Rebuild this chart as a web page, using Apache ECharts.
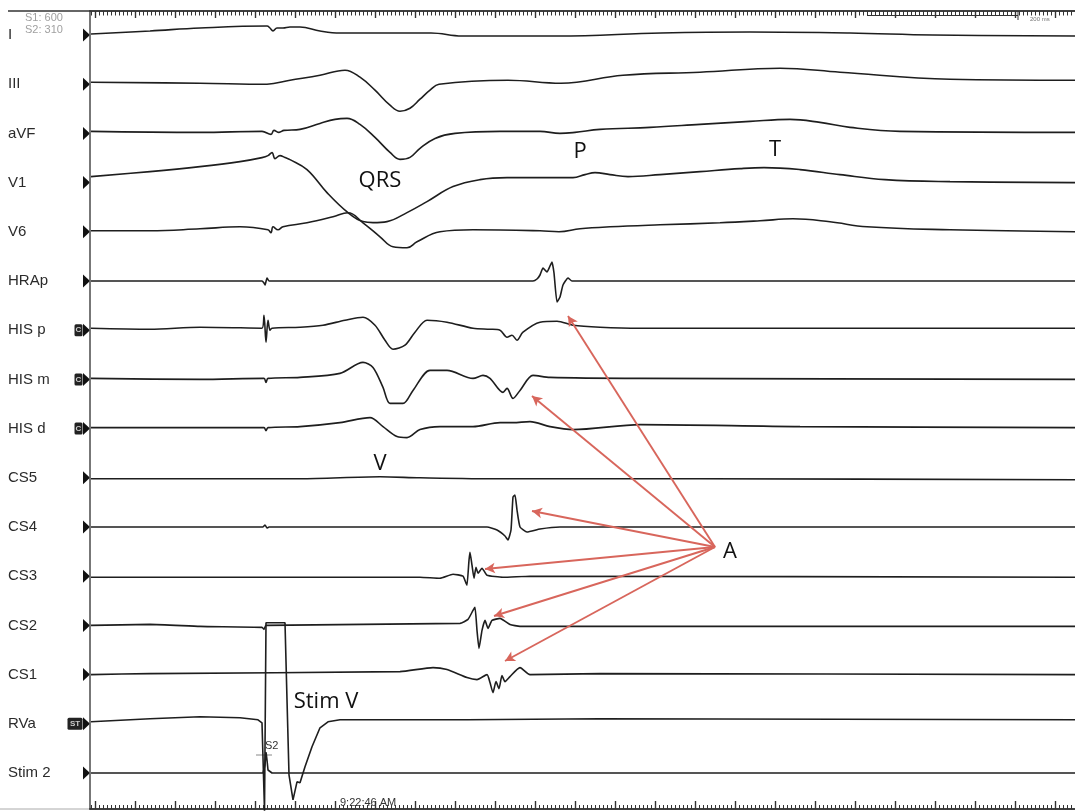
<!DOCTYPE html>
<html><head><meta charset="utf-8">
<script src="https://cdn.jsdelivr.net/npm/echarts@6/dist/echarts.min.js"></script>
<style>html,body{margin:0;padding:0;background:#fff;overflow:hidden}#c{width:1075px;height:811px}</style>
</head><body><div id="c"></div>
<script>
// ---- channel names (top to bottom) ----
const channelNames = ['I','III','aVF','V1','V6','HRAp','HIS p','HIS m','HIS d','CS5','CS4','CS3','CS2','CS1','RVa','Stim 2'];
const channelBadges = {6:'C', 7:'C', 8:'C', 14:'ST'};

// ---- traces: [time, amplitude] pairs ----
const traceI = [[1,1],[60,4],[110,7],[177,9],[180,7],[183,4],[187,7],[193,7],[200,8],[210,8],[230,4],[250,2],[341,2],[372,-1],[468,-1],[571,2],[660,3],[760,2],[843,0],[985,-1]];
const traceIII = [[1,2],[110,1],[177,0],[200,4],[230,9],[255,14],[270,7],[285,-6],[300,-21],[310,-27],[320,-24],[330,-15],[340,-6],[349,0],[418,4],[471,1],[533,9],[610,12],[690,16],[750,12],[860,5],[985,4]];
const traceAVF = [[1,2],[110,1],[172,2],[181,-1],[184,3],[189,1],[194,3],[210,4],[230,10],[245,14],[257,15],[270,9],[285,-4],[300,-19],[310,-26],[320,-24],[330,-15],[345,-5],[365,0],[410,2],[450,2],[470,0],[485,1],[510,4],[560,6],[610,9],[660,12],[700,14],[730,11],[760,6],[810,2],[985,1]];
const traceV1 = [[1,6],[60,11],[110,16],[150,21],[172,25],[178,27],[182,30],[185,24],[190,27],[195,25],[200,23],[217,13],[237,-10],[258,-30],[273,-39],[283,-40],[297,-39],[317,-30],[337,-19],[363,-4],[390,3],[417,5],[483,5],[495,8],[505,10],[520,8],[538,6],[570,8],[610,11],[650,14],[674,15],[710,13],[750,8],[795,3],[860,1],[985,0]];
const traceV6 = [[1,1],[60,1],[110,3],[150,5],[178,2],[181,-1],[183,5],[188,2],[193,5],[217,9],[243,15],[258,19],[273,9],[290,-5],[303,-15],[317,-16],[327,-10],[350,0],[383,2],[450,1],[469,0],[490,3],[520,5],[570,7],[630,9],[670,11],[703,13],[740,10],[777,5],[860,2],[985,0]];
const traceHRAp = [[1,0],[172,0],[174,-2],[175,-4],[177,3],[179,0],[443,0],[447,2],[450,6],[453,13],[457,9],[460,15],[462,19],[464,8],[467,-21],[470,-16],[473,-4],[478,3],[482,0],[985,0]];
const traceHISp = [[1,2],[60,1],[110,3],[172,2],[174,15],[176,-12],[178,10],[180,0],[182,2],[210,3],[233,5],[255,10],[273,13],[285,5],[295,-10],[303,-19],[315,-15],[325,-2],[337,10],[357,8],[383,2],[400,1],[410,0],[417,-7],[422,-5],[427,-10],[433,-2],[450,8],[467,9],[483,5],[510,3],[550,2],[710,2],[985,2]];
const traceHISm = [[1,1],[110,0],[174,1],[176,-3],[178,1],[210,2],[250,6],[273,17],[283,12],[293,-8],[300,-24],[313,-24],[323,-11],[340,9],[357,9],[383,1],[393,4],[400,1],[413,-13],[417,-9],[423,-19],[430,-11],[443,4],[460,2],[550,1],[985,0]];
const traceHISd = [[1,1],[174,1],[176,-2],[178,1],[210,2],[250,6],[280,11],[293,2],[307,-8],[317,-9],[330,-1],[350,2],[383,2],[410,6],[423,6],[440,7],[460,2],[483,-1],[550,4],[710,2],[985,1]];
const traceCS5 = [[1,-1],[210,-1],[290,1],[330,0],[410,-1],[610,-1],[985,-2]];
const traceCS4 = [[1,0],[173,0],[175,2],[177,-1],[179,0],[397,0],[407,-3],[415,-9],[418,-13],[421,-3],[423,30],[425,32],[427,17],[430,0],[437,-5],[450,-2],[470,0],[985,0]];
const traceCS3 = [[1,-1],[330,-1],[350,-2],[363,2],[373,0],[376,-7],[377,-9],[379,16],[380,24],[382,11],[384,-2],[386,9],[388,3],[392,8],[397,1],[413,-1],[440,0],[985,-1]];
const traceCS2 = [[1,0],[60,1],[110,-1],[172,-2],[174,-4],[176,0],[370,2],[378,6],[383,15],[385,18],[387,-5],[389,-23],[392,-5],[395,5],[398,-3],[402,5],[410,7],[420,1],[430,-1],[985,-1]];
const traceCS1 = [[1,0],[60,1],[310,3],[343,7],[357,5],[377,-3],[387,-5],[397,0],[400,-8],[403,-18],[406,-7],[409,-14],[412,-1],[415,-7],[420,-2],[430,7],[440,0],[510,1],[985,0]];
const traceRVa = [[1,2],[60,5],[110,7],[150,6],[168,4],[172,1],[173,0],[174.5,-87],[176,101],[195,101],[197,24],[199,-51],[203,-76],[207,-58],[210,-59],[215,-43],[222,-23],[230,-4],[238,2],[250,4],[377,4],[510,5],[985,4]];
const traceStim2 = [[1,0],[173,0],[175,8],[176,21],[177,13],[178,3],[182,0],[985,0]];

const traces = [traceI,traceIII,traceAVF,traceV1,traceV6,traceHRAp,traceHISp,traceHISm,traceHISd,traceCS5,traceCS4,traceCS3,traceCS2,traceCS1,traceRVa,traceStim2];
const smoothing = [0.4,0.4,0.4,0.4,0.4,0.15,0.3,0.3,0.3,0.3,0.15,0.15,0.15,0.2,false,false];

// ---- ruler ticks (time units) ----
const majorTicks = []; for (let t = 5; t <= 985; t += 40) majorTicks.push(t);
const minorTicks = []; for (let t = 1; t <= 985; t += 4) minorTicks.push(t);

// ---- annotation arrows: origin near "A" and targets (time, value) ----
const arrowOrigin = [625, 262];
const arrowTargets = [[478,493],[442,413],[442,298],[395,240],[404,193],[415,148]];

// ---- layout constants ----
const T_MAX = 985, Y_MAX = 798, FIRST_BASE = 774, SPACING = 49.2;
const base = i => FIRST_BASE - SPACING * i;

const chart = echarts.init(document.getElementById('c'), null, {renderer: 'canvas'});
const AX = '#333';
function rulerAxis(pos, ticks, len, w) {
  return {type:'value', min:0, max:T_MAX, position:pos,
    axisLine:{show:true, onZero:false, lineStyle:{color:AX, width:1.5}},
    axisTick:{show:true, inside:true, length:len, customValues:ticks, lineStyle:{color:AX, width:w}},
    axisLabel:{show:false}, splitLine:{show:false}, minorTick:{show:false}};
}

const series = traces.map((tr, i) => ({
  type:'line', name:channelNames[i], xAxisIndex:0, yAxisIndex:0,
  data: tr.map(([t, a]) => [t, base(i) + a]),
  showSymbol:false, symbol:'none', clip:false,
  smooth: smoothing[i],
  lineStyle:{color:'#1e1e1e', width:1.6}, z:3, silent:true, animation:false
}));
series.push({
  type:'line', data:[], xAxisIndex:0, yAxisIndex:0, silent:true, animation:false,
  markLine:{silent:true, animation:false, symbol:['none','arrow'], symbolSize:[8,10], precision:3,
    label:{show:false}, emphasis:{disabled:true},
    lineStyle:{color:'#d8665c', width:1.9, type:'solid'},
    data: arrowTargets.map(p => [{coord:arrowOrigin}, {coord:p}])},
  z:5
});

chart.setOption({
  backgroundColor:'#ffffff',
  animation:false,
  grid:{left:90, right:0, top:11, bottom:2},
  xAxis:[rulerAxis('bottom', majorTicks, 8, 1.4), rulerAxis('bottom', minorTicks, 4, 1),
         rulerAxis('top', majorTicks, 7, 1.4), rulerAxis('top', minorTicks, 4.5, 1)],
  yAxis:{type:'value', min:0, max:Y_MAX, axisLine:{show:true, lineStyle:{color:'#555', width:1.6}},
    axisTick:{show:false}, axisLabel:{show:false}, splitLine:{show:false}},
  series
});

// ---- channel labels, markers and annotations ----
const g = [];
const LABEL_FONT = '15px "Liberation Sans", Arial, sans-serif';
channelNames.forEach((name, i) => {
  const y = chart.convertToPixel({gridIndex:0}, [0, base(i)])[1];
  g.push({type:'text', x:8, y:y, style:{text:name, font:LABEL_FONT, fill:'#2b2b2b', textVerticalAlign:'middle'}});
  g.push({type:'polygon', shape:{points:[[83,y-6.5],[90,y],[83,y+6.5]]}, style:{fill:'#111'}});
  const b = channelBadges[i];
  if (b) {
    const w = b === 'C' ? 8 : 15;
    g.push({type:'rect', shape:{x:83-w-0.5, y:y-6, width:w, height:12, r:1.5}, style:{fill:'#222'}});
    g.push({type:'text', x:83-w/2-0.5, y:y, style:{text:b, font:'bold 8px "Liberation Sans", Arial, sans-serif', fill:'#ccc', textAlign:'center', textVerticalAlign:'middle'}});
  }
});
const ANN_FONT = '22px "Open Sans", "Noto Sans", sans-serif';
[['QRS',380,181],['P',580,152],['T',775,150],['V',380,464],['A',730,552],['Stim V',326,702]].forEach(([t,x,y]) => {
  g.push({type:'text', x:x, y:y, z:10, style:{text:t, font:ANN_FONT, fill:'#111', textAlign:'center', textVerticalAlign:'middle'}});
});
// header texts and small marks
g.push({type:'text', x:25, y:18, style:{text:'S1: 600', font:'11px "Liberation Sans", Arial, sans-serif', fill:'#a0a0a0', textVerticalAlign:'middle'}});
g.push({type:'text', x:25, y:30, style:{text:'S2: 310', font:'11px "Liberation Sans", Arial, sans-serif', fill:'#a0a0a0', textVerticalAlign:'middle'}});
g.push({type:'line', shape:{x1:8, y1:11, x2:90, y2:11}, style:{stroke:AX, lineWidth:1.5}});
g.push({type:'line', shape:{x1:0, y1:809, x2:90, y2:809}, style:{stroke:'#aaa', lineWidth:1}});
g.push({type:'line', shape:{x1:867, y1:15.5, x2:1018, y2:15.5}, style:{stroke:AX, lineWidth:1}});
g.push({type:'line', shape:{x1:1018, y1:11, x2:1018, y2:20}, style:{stroke:AX, lineWidth:1}});
g.push({type:'text', x:1030, y:19, style:{text:'200 ms', font:'6px "Liberation Sans", Arial, sans-serif', fill:'#777', textVerticalAlign:'middle'}});
g.push({type:'text', x:265, y:746, z:10, style:{text:'S2', font:'11px "Liberation Sans", Arial, sans-serif', fill:'#333', textVerticalAlign:'middle'}});
g.push({type:'line', shape:{x1:256, y1:755, x2:272, y2:755}, style:{stroke:'#888', lineWidth:1}});
g.push({type:'text', x:340, y:803, z:10, style:{text:'9:22:46 AM', font:'11px "Liberation Sans", Arial, sans-serif', fill:'#333', textVerticalAlign:'middle'}});
chart.setOption({graphic:{elements:g}});
</script>
</body></html>
